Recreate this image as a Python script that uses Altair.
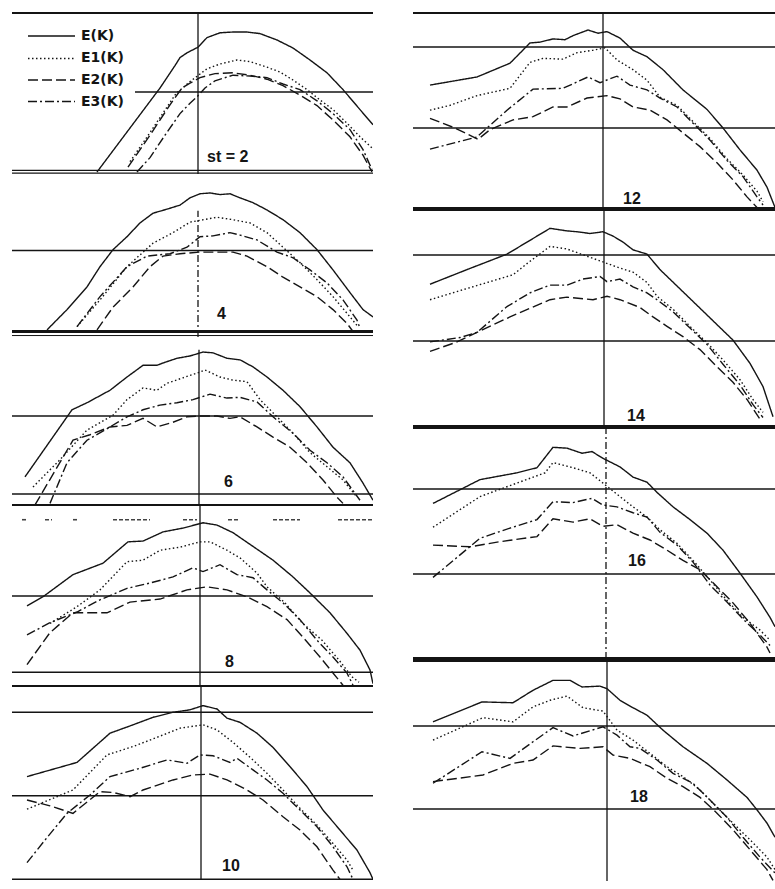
import altair as alt
import pandas as pd

# Band energies E(K) and the three approximations, one panel per step count "st".
# K runs along the horizontal axis (arbitrary units), energies are in units of the
# spacing between the horizontal reference levels.
SERIES = ["E(K)", "E1(K)", "E2(K)", "E3(K)"]
DASHES = [[1, 0], [1.5, 2.5], [10, 4], [9, 3, 2, 3]]
INK = "#141414"

# ---- st = 2 ----
ST2_E = [(8.5, 0.0), (11.8, 0.55), (14.8, 1.05), (16.3, 1.33), (16.8, 1.43), (17.5, 1.49), (18.6, 1.56), (19.5, 1.68), (20.8, 1.74), (22.1, 1.75), (23.5, 1.75), (24.8, 1.73), (26.5, 1.65), (28.1, 1.55), (29.8, 1.40), (31.5, 1.24), (33.1, 1.03), (34.8, 0.78), (36.1, 0.59)]
ST2_E1 = [(11.8, 0.13), (13.3, 0.40), (14.8, 0.68), (16.4, 0.98), (17.8, 1.13), (19.5, 1.29), (20.8, 1.35), (22.5, 1.40), (23.8, 1.38), (25.5, 1.31), (26.8, 1.25), (28.1, 1.15), (29.5, 1.03), (30.8, 0.90), (32.1, 0.78), (33.5, 0.61), (34.8, 0.44), (36.0, 0.30)]
ST2_E2 = [(11.6, 0.06), (13.8, 0.46), (15.8, 0.84), (17.0, 1.05), (17.8, 1.11), (18.8, 1.18), (20.3, 1.23), (22.1, 1.24), (23.8, 1.21), (25.5, 1.16), (27.1, 1.08), (28.8, 0.96), (30.5, 0.83), (32.1, 0.65), (33.8, 0.44), (35.1, 0.21), (36.0, 0.0)]
ST2_E3 = [(12.5, 0.0), (13.8, 0.18), (15.3, 0.46), (16.8, 0.73), (17.8, 0.86), (18.5, 0.94), (19.3, 1.05), (20.3, 1.14), (22.1, 1.21), (23.8, 1.20), (25.5, 1.18), (27.1, 1.10), (28.8, 1.03), (30.5, 0.89), (32.1, 0.73), (33.8, 0.53), (35.1, 0.28), (36.0, 0.03)]

# ---- st = 4 ----
ST4_E = [(3.5, 0.02), (5.5, 0.27), (7.5, 0.55), (8.8, 0.80), (10.1, 1.01), (11.5, 1.17), (12.8, 1.34), (14.1, 1.46), (15.5, 1.51), (16.8, 1.56), (17.8, 1.65), (18.8, 1.70), (19.8, 1.71), (20.8, 1.69), (21.8, 1.70), (22.8, 1.65), (24.1, 1.59), (25.5, 1.50), (27.1, 1.38), (28.8, 1.22), (30.5, 1.01), (32.1, 0.76), (33.8, 0.48), (35.1, 0.27), (36.1, 0.18)]
ST4_E1 = [(6.5, 0.06), (8.8, 0.39), (11.5, 0.80), (14.1, 1.09), (16.1, 1.22), (17.8, 1.35), (20.5, 1.41), (22.1, 1.38), (23.8, 1.34), (25.5, 1.22), (27.1, 1.04), (28.8, 0.85), (30.5, 0.64), (32.1, 0.43), (33.8, 0.18), (34.6, 0.06)]
ST4_E2 = [(8.5, 0.02), (10.1, 0.30), (12.1, 0.55), (13.8, 0.80), (15.1, 0.93), (16.8, 0.96), (18.8, 0.98), (20.5, 0.98), (22.1, 0.98), (23.5, 0.93), (25.5, 0.80), (27.1, 0.67), (28.8, 0.55), (30.5, 0.43), (32.1, 0.27), (33.5, 0.10), (34.1, 0.0)]
ST4_E3 = [(6.5, 0.06), (8.8, 0.43), (11.5, 0.80), (13.5, 0.93), (15.8, 0.96), (17.5, 1.04), (18.8, 1.17), (20.1, 1.18), (21.8, 1.22), (22.8, 1.19), (24.5, 1.13), (26.5, 0.98), (28.1, 0.91), (29.8, 0.76), (31.5, 0.60), (33.1, 0.39), (34.5, 0.14), (34.8, 0.04)]

# ---- st = 6 ----
ST6_E = [(1.3, 0.22), (6.0, 1.08), (7.5, 1.17), (9.8, 1.33), (11.5, 1.50), (13.1, 1.65), (14.5, 1.65), (15.1, 1.68), (16.5, 1.74), (17.8, 1.77), (19.1, 1.82), (20.1, 1.81), (21.5, 1.74), (22.8, 1.72), (24.1, 1.63), (25.5, 1.50), (27.1, 1.33), (28.8, 1.12), (30.5, 0.86), (32.1, 0.60), (33.8, 0.40), (35.1, 0.14), (36.1, -0.08)]
ST6_E1 = [(2.1, 0.09), (4.8, 0.44), (7.5, 0.82), (10.1, 1.01), (11.5, 1.21), (13.1, 1.36), (14.5, 1.33), (15.5, 1.42), (17.1, 1.49), (18.5, 1.55), (19.3, 1.59), (20.8, 1.50), (22.1, 1.46), (23.5, 1.44), (24.8, 1.21), (26.5, 0.99), (28.1, 0.78), (29.8, 0.53), (31.5, 0.35), (33.1, 0.18), (34.5, -0.04)]
ST6_E2 = [(2.3, -0.14), (6.1, 0.69), (7.8, 0.76), (9.8, 0.86), (11.5, 0.88), (13.1, 0.97), (14.5, 0.86), (16.1, 0.92), (17.5, 0.99), (18.8, 1.00), (20.5, 1.00), (21.8, 0.97), (22.8, 0.99), (24.5, 0.86), (26.1, 0.73), (27.8, 0.60), (29.5, 0.40), (31.1, 0.18), (32.5, -0.04), (33.1, -0.12)]
ST6_E3 = [(3.8, -0.12), (5.5, 0.40), (7.5, 0.69), (9.8, 0.86), (11.5, 0.99), (13.1, 1.08), (14.8, 1.14), (16.5, 1.17), (18.1, 1.21), (19.8, 1.28), (21.5, 1.23), (22.8, 1.24), (24.5, 1.18), (26.1, 0.99), (28.1, 0.78), (29.8, 0.56), (31.5, 0.40), (33.1, 0.22), (34.8, -0.08)]

# ---- st = 8 ----
ST8_E = [(1.5, 0.87), (3.1, 0.99), (6.1, 1.28), (9.1, 1.43), (11.6, 1.71), (13.1, 1.72), (15.1, 1.84), (17.1, 1.89), (19.1, 1.96), (20.5, 1.93), (22.1, 1.83), (24.1, 1.65), (26.1, 1.47), (28.1, 1.25), (29.8, 1.04), (31.8, 0.78), (33.5, 0.51), (34.8, 0.29), (35.8, 0.03), (36.1, -0.15)]
ST8_E1 = [(3.8, 0.64), (6.5, 0.86), (8.8, 1.08), (11.5, 1.45), (13.1, 1.47), (14.8, 1.60), (16.8, 1.64), (18.8, 1.71), (19.8, 1.71), (21.5, 1.60), (22.8, 1.50), (24.5, 1.30), (25.5, 1.12), (27.3, 0.91), (29.0, 0.65), (31.0, 0.42), (32.7, 0.16), (34.0, -0.06), (34.7, -0.13)]
ST8_E2 = [(1.5, 0.10), (3.8, 0.52), (6.1, 0.78), (9.5, 0.78), (11.8, 0.92), (14.8, 0.96), (17.5, 1.08), (19.5, 1.12), (21.5, 1.08), (23.5, 0.99), (25.5, 0.86), (27.5, 0.69), (29.1, 0.46), (30.8, 0.20), (32.1, -0.01), (33.1, -0.17)]
ST8_E3 = [(1.5, 0.49), (3.8, 0.65), (6.5, 0.79), (8.8, 0.95), (11.5, 1.10), (13.8, 1.17), (16.1, 1.25), (18.1, 1.37), (19.1, 1.32), (20.8, 1.41), (22.5, 1.28), (24.1, 1.24), (25.5, 1.08), (27.1, 0.91), (28.8, 0.69), (30.5, 0.42), (32.1, 0.20), (33.5, -0.01), (34.1, -0.17)]

# ---- st = 10 ----
ST10_E = [(1.5, 1.23), (6.5, 1.40), (9.8, 1.75), (12.1, 1.85), (14.1, 1.94), (16.1, 2.00), (17.8, 2.03), (19.1, 2.08), (20.5, 2.04), (21.5, 1.93), (22.8, 1.88), (24.5, 1.75), (26.1, 1.58), (27.8, 1.35), (29.5, 1.11), (31.1, 0.83), (32.8, 0.59), (34.5, 0.35), (35.8, 0.08), (36.1, 0.0)]
ST10_E1 = [(1.5, 0.84), (6.1, 1.07), (9.5, 1.49), (12.1, 1.59), (14.5, 1.70), (16.8, 1.81), (19.1, 1.85), (20.5, 1.79), (22.1, 1.64), (24.1, 1.43), (25.5, 1.27), (27.1, 1.07), (28.8, 0.85), (30.5, 0.65), (32.1, 0.43), (33.5, 0.23), (34.1, 0.11)]
ST10_E2 = [(1.5, 0.95), (3.8, 0.88), (6.1, 0.79), (8.8, 1.05), (10.1, 1.04), (11.8, 0.99), (13.1, 1.07), (16.1, 1.19), (18.1, 1.25), (19.8, 1.26), (21.5, 1.19), (23.5, 1.07), (25.1, 0.95), (27.1, 0.75), (28.8, 0.59), (30.5, 0.39), (32.1, 0.11), (32.8, 0.0)]
ST10_E3 = [(1.5, 0.20), (3.5, 0.50), (5.5, 0.79), (7.8, 1.01), (9.8, 1.23), (12.8, 1.33), (15.5, 1.43), (17.5, 1.39), (18.8, 1.49), (20.1, 1.48), (21.8, 1.40), (22.5, 1.45), (24.1, 1.31), (25.5, 1.19), (27.1, 1.03), (28.8, 0.83), (30.5, 0.63), (32.1, 0.39), (33.5, 0.15), (34.1, 0.0)]

# ---- st = 12 ----
ST12_E = [(1.7, 1.53), (6.4, 1.63), (9.7, 1.80), (11.7, 2.05), (12.7, 2.06), (14.0, 2.10), (15.2, 2.09), (16.0, 2.14), (17.5, 2.21), (18.5, 2.17), (19.4, 2.19), (20.7, 2.11), (22.0, 1.96), (23.4, 1.88), (25.0, 1.72), (27.0, 1.47), (29.4, 1.23), (31.0, 1.00), (32.7, 0.73), (34.4, 0.48), (35.4, 0.27), (36.2, 0.02)]
ST12_E1 = [(1.7, 1.22), (3.7, 1.28), (6.4, 1.40), (9.7, 1.49), (11.7, 1.81), (13.0, 1.86), (15.0, 1.85), (16.4, 1.93), (18.0, 1.96), (19.2, 1.99), (20.4, 1.84), (22.0, 1.72), (23.4, 1.59), (24.7, 1.38), (26.4, 1.28), (28.0, 1.08), (29.7, 0.87), (31.4, 0.62), (33.0, 0.42), (34.4, 0.22), (35.0, 0.09)]
ST12_E2 = [(1.7, 1.12), (4.2, 1.00), (6.5, 0.86), (7.7, 0.98), (10.0, 1.10), (12.0, 1.14), (14.0, 1.26), (15.4, 1.26), (17.4, 1.37), (19.4, 1.40), (20.7, 1.36), (22.0, 1.26), (23.7, 1.22), (25.4, 1.10), (27.0, 0.94), (28.7, 0.77), (30.4, 0.57), (32.0, 0.36), (33.4, 0.15), (34.4, 0.02)]
ST12_E3 = [(1.7, 0.74), (6.4, 0.89), (9.4, 1.22), (12.0, 1.48), (15.0, 1.49), (17.5, 1.63), (18.7, 1.56), (20.4, 1.64), (21.7, 1.53), (23.4, 1.47), (24.7, 1.37), (26.4, 1.26), (28.0, 1.06), (29.7, 0.85), (31.4, 0.60), (33.0, 0.40), (34.4, 0.15), (35.0, 0.05)]

# ---- st = 14 ----
ST14_E = [(1.7, 1.66), (5.4, 1.83), (9.4, 2.01), (13.7, 2.31), (15.4, 2.28), (16.4, 2.27), (17.7, 2.25), (19.0, 2.27), (20.0, 2.22), (21.0, 2.15), (22.0, 2.06), (23.4, 2.01), (24.7, 1.83), (28.0, 1.46), (32.0, 1.01), (33.7, 0.74), (35.0, 0.47), (36.0, 0.12)]
ST14_E1 = [(1.7, 1.48), (5.4, 1.61), (10.0, 1.77), (11.4, 1.90), (13.7, 2.10), (15.4, 2.07), (20.4, 1.86), (22.0, 1.80), (23.4, 1.68), (24.4, 1.52), (26.0, 1.37), (27.7, 1.17), (29.4, 0.98), (31.0, 0.78), (32.7, 0.55), (34.0, 0.32), (35.0, 0.17)]
ST14_E2 = [(1.7, 0.88), (4.2, 0.98), (6.4, 1.10), (9.7, 1.28), (13.7, 1.48), (15.4, 1.51), (18.0, 1.48), (19.4, 1.52), (20.7, 1.48), (22.7, 1.39), (24.0, 1.28), (25.4, 1.17), (27.0, 1.05), (28.7, 0.90), (30.4, 0.70), (32.0, 0.52), (33.4, 0.32), (34.7, 0.09)]
ST14_E3 = [(1.7, 0.99), (4.7, 1.04), (6.4, 1.10), (9.4, 1.40), (11.7, 1.56), (13.7, 1.65), (15.4, 1.65), (17.0, 1.72), (18.7, 1.75), (19.4, 1.69), (20.7, 1.72), (22.0, 1.63), (23.4, 1.56), (24.4, 1.48), (26.0, 1.34), (27.7, 1.15), (29.4, 0.96), (31.0, 0.73), (32.7, 0.49), (34.0, 0.26), (35.0, 0.11)]

# ---- st = 16 ----
ST16_E = [(2.0, 1.83), (6.7, 2.11), (10.4, 2.19), (12.4, 2.25), (14.0, 2.49), (15.4, 2.48), (16.9, 2.42), (17.9, 2.44), (19.0, 2.36), (20.7, 2.26), (22.0, 2.14), (23.4, 2.08), (24.4, 1.96), (26.0, 1.79), (27.7, 1.64), (29.4, 1.48), (31.0, 1.28), (32.7, 1.01), (34.4, 0.73), (35.7, 0.49), (36.2, 0.38)]
ST16_E1 = [(2.0, 1.55), (6.7, 1.91), (13.2, 2.19), (14.0, 2.31), (15.0, 2.28), (16.0, 2.25), (17.7, 2.19), (20.7, 1.91), (22.0, 1.79), (23.4, 1.67), (24.7, 1.52), (26.4, 1.36), (28.0, 1.16), (29.7, 0.93), (31.4, 0.69), (33.0, 0.49), (34.7, 0.34), (35.7, 0.22)]
ST16_E2 = [(2.0, 1.34), (5.7, 1.32), (8.7, 1.38), (12.4, 1.44), (14.0, 1.65), (16.0, 1.61), (17.7, 1.65), (19.0, 1.56), (20.4, 1.58), (22.0, 1.48), (23.7, 1.40), (25.4, 1.28), (27.0, 1.16), (28.7, 1.05), (30.4, 0.85), (32.0, 0.66), (33.7, 0.42), (35.4, 0.14), (35.7, 0.07)]
ST16_E3 = [(2.0, 0.96), (6.7, 1.42), (9.7, 1.54), (12.4, 1.64), (14.0, 1.85), (16.0, 1.84), (17.9, 1.89), (19.0, 1.81), (20.4, 1.79), (22.0, 1.72), (23.4, 1.67), (24.7, 1.49), (26.4, 1.34), (28.0, 1.14), (29.7, 0.87), (31.4, 0.67), (33.0, 0.47), (34.7, 0.28), (35.7, 0.16)]

# ---- st = 18 ----
ST18_E = [(2.0, 2.05), (6.9, 2.29), (10.0, 2.28), (12.0, 2.43), (14.0, 2.55), (15.7, 2.55), (16.9, 2.47), (18.7, 2.48), (19.4, 2.45), (20.7, 2.31), (22.0, 2.22), (23.4, 2.13), (25.0, 1.95), (27.0, 1.75), (29.4, 1.55), (31.4, 1.35), (33.4, 1.14), (34.4, 0.99), (35.4, 0.83), (36.2, 0.66)]
ST18_E1 = [(2.0, 1.83), (7.0, 2.10), (10.0, 2.05), (12.0, 2.23), (13.7, 2.31), (15.4, 2.36), (17.0, 2.22), (19.0, 2.18), (20.4, 1.95), (22.0, 1.83), (23.7, 1.67), (25.4, 1.51), (27.0, 1.39), (28.7, 1.23), (30.4, 1.02), (32.0, 0.83), (33.7, 0.63), (35.4, 0.42), (36.2, 0.27)]
ST18_E2 = [(2.0, 1.33), (7.0, 1.41), (10.0, 1.55), (12.0, 1.59), (14.0, 1.76), (16.7, 1.73), (19.0, 1.75), (20.0, 1.65), (21.7, 1.61), (23.7, 1.51), (25.4, 1.37), (27.0, 1.27), (28.7, 1.14), (30.4, 0.95), (32.0, 0.75), (33.7, 0.51), (35.4, 0.27), (36.0, 0.14)]
ST18_E3 = [(2.0, 1.31), (6.9, 1.69), (9.7, 1.61), (12.0, 1.81), (14.0, 1.98), (16.0, 1.88), (17.9, 1.95), (19.0, 1.99), (20.4, 1.89), (21.7, 1.75), (22.7, 1.73), (24.4, 1.59), (26.0, 1.43), (28.0, 1.31), (29.7, 1.11), (31.4, 0.90), (33.0, 0.66), (34.7, 0.42), (36.2, 0.23)]

# Broken reference level drawn in the st = 8 panel (pieces along K)
ST8_TOP_PIECES = [(1.0, 1.6), (3.3, 4.0), (6.1, 6.5), (10.1, 13.8), (17.1, 18.5), (21.6, 22.8), (26.1, 28.8), (32.6, 36.1)]

# Legend rows (energy position of each row inside the st = 2 panel)
LEGEND_ROWS = [1.70, 1.42, 1.15, 0.88]

LEFT_K = 36.1
RIGHT_K = 36.2
PANEL_W_LEFT = 361
PANEL_W_RIGHT = 362


def curve_frame(curves):
    rows = []
    for name, pts in zip(SERIES, curves):
        for i, (k, e) in enumerate(pts):
            rows.append({"series": name, "k": k, "e": e, "i": i})
    return pd.DataFrame(rows)


def panel(curves, label, label_at, height, ylim, kmax, width, levels, vline,
          vdash=None, dashed_pieces=None, legend=False):
    xs = alt.Scale(domain=[0, kmax], nice=False, zero=False)
    ys = alt.Scale(domain=list(ylim), nice=False, zero=False)

    def X(f):
        return alt.X(f, type="quantitative", scale=xs, axis=None)

    def Y(f):
        return alt.Y(f, type="quantitative", scale=ys, axis=None)

    dash_scale = alt.Scale(domain=SERIES, range=DASHES)
    layers = []

    # horizontal reference levels and frame lines
    lv = pd.DataFrame([{"e": e, "k1": a, "k2": b, "w": w} for (e, a, b, w) in levels])
    layers.append(
        alt.Chart(lv).mark_rule(color=INK, clip=True).encode(
            x=X("k1"), x2=alt.X2("k2"), y=Y("e"),
            strokeWidth=alt.StrokeWidth("w:Q", scale=None),
        )
    )
    if dashed_pieces:
        dp = pd.DataFrame([{"k1": a, "k2": b, "e": dashed_pieces[1]} for (a, b) in dashed_pieces[0]])
        layers.append(
            alt.Chart(dp).mark_rule(color=INK, strokeWidth=1.6, strokeDash=[4, 2], opacity=0.8,
                                    clip=True).encode(
                x=X("k1"), x2=alt.X2("k2"), y=Y("e")
            )
        )

    # vertical marker at the zone centre
    vk, ve1, ve2 = vline
    vdf = pd.DataFrame([{"k": vk, "e1": ve1, "e2": ve2}])
    vkw = {"color": INK, "strokeWidth": 1.3, "clip": True}
    if vdash:
        vkw["strokeDash"] = vdash
    layers.append(alt.Chart(vdf).mark_rule(**vkw).encode(x=X("k"), y=Y("e1"), y2=alt.Y2("e2")))

    # the four energy curves
    layers.append(
        alt.Chart(curve_frame(curves)).mark_line(color=INK, strokeWidth=1.4, clip=True).encode(
            x=X("k"), y=Y("e"),
            strokeDash=alt.StrokeDash("series:N", scale=dash_scale, legend=None),
            order="i:Q",
        )
    )

    # panel label
    ldf = pd.DataFrame([{"k": label_at[0], "e": label_at[1], "t": label}])
    layers.append(
        alt.Chart(ldf).mark_text(align="left", baseline="middle", font="Liberation Sans",
                                 fontSize=16, fontWeight="bold", color=INK, clip=True).encode(
            x=X("k"), y=Y("e"), text="t:N"
        )
    )

    if legend:
        seg = []
        for name, e in zip(SERIES, LEGEND_ROWS):
            seg.append({"series": name, "k": 1.6, "e": e, "i": 0})
            seg.append({"series": name, "k": 6.3, "e": e, "i": 1})
        layers.append(
            alt.Chart(pd.DataFrame(seg)).mark_line(color=INK, strokeWidth=1.5, clip=True).encode(
                x=X("k"), y=Y("e"),
                strokeDash=alt.StrokeDash("series:N", scale=dash_scale, legend=None),
                order="i:Q",
            )
        )
        tdf = pd.DataFrame([{"k": 6.9, "e": e, "t": n} for n, e in zip(SERIES, LEGEND_ROWS)])
        layers.append(
            alt.Chart(tdf).mark_text(align="left", baseline="middle", font="DejaVu Sans",
                                     fontSize=14, fontWeight="bold", color=INK, clip=True).encode(
                x=X("k"), y=Y("e"), text="t:N"
            )
        )

    return alt.layer(*layers).properties(width=width, height=height)


L, R = LEFT_K, RIGHT_K
DASHDOT = [7, 3, 2, 3]

left = [
    panel((ST2_E, ST2_E1, ST2_E2, ST2_E3), "st = 2", (19.5, 0.19), 162, (-0.025, 2.0), L, PANEL_W_LEFT,
          [(2.0, 0, L, 4.0), (1.0, 12.3, L, 1.5), (0.02, 0, L, 1.3), (-0.015, 0, L, 1.3)],
          (18.6, -0.025, 2.0), legend=True),
    panel((ST4_E, ST4_E1, ST4_E2, ST4_E3), "4", (20.5, 0.22), 163, (-0.068, 1.944), L, PANEL_W_LEFT,
          [(1.0, 0, L, 1.5), (0.0, 0, L, 3.2), (-0.05, 0, L, 1.0)],
          (18.6, -0.068, 1.49), vdash=DASHDOT),
    panel((ST6_E, ST6_E1, ST6_E2, ST6_E3), "6", (21.2, 0.15), 168, (-0.141, 2.013), L, PANEL_W_LEFT,
          [(1.0, 0, L, 1.5), (0.0, 0, L, 1.5), (-0.141, 0, L, 2.0)],
          (18.7, -0.141, 1.85)),
    panel((ST8_E, ST8_E1, ST8_E2, ST8_E3), "8", (21.3, 0.135), 181, (-0.18, 2.193), L, PANEL_W_LEFT,
          [(2.193, 0, L, 2.0), (1.0, 0, L, 1.5), (0.0, 0, L, 1.5), (-0.18, 0, L, 2.0)],
          (18.8, -0.18, 2.193), dashed_pieces=(ST8_TOP_PIECES, 2.0)),
    panel((ST10_E, ST10_E1, ST10_E2, ST10_E3), "10", (21.0, 0.16), 194, (-0.008, 2.315), L, PANEL_W_LEFT,
          [(2.315, 0, L, 2.0), (2.0, 0, L, 1.5), (1.0, 0, L, 1.5), (0.0, 0, L, 1.5)],
          (18.9, -0.008, 2.315)),
]

right = [
    panel((ST12_E, ST12_E1, ST12_E2, ST12_E3), "12", (21.0, 0.12), 198, (-0.012, 2.432), R, PANEL_W_RIGHT,
          [(2.432, 0, R, 4.0), (2.0, 0, R, 1.5), (1.0, 0, R, 1.5), (0.0, 0, R, 4.0)],
          (19.0, -0.012, 2.432)),
    panel((ST14_E, ST14_E1, ST14_E2, ST14_E3), "14", (21.4, 0.13), 217, (0.0, 2.523), R, PANEL_W_RIGHT,
          [(2.523, 0, R, 2.0), (2.0, 0, R, 1.5), (1.0, 0, R, 1.5), (0.0, 0, R, 4.0)],
          (19.1, 0.0, 2.523)),
    panel((ST16_E, ST16_E1, ST16_E2, ST16_E3), "16", (21.5, 1.15), 232, (0.0, 2.729), R, PANEL_W_RIGHT,
          [(2.729, 0, R, 4.0), (2.0, 0, R, 1.5), (1.0, 0, R, 1.5), (0.0, 0, R, 4.0)],
          (19.3, 0.0, 2.729), vdash=DASHDOT),
    panel((ST18_E, ST18_E1, ST18_E2, ST18_E3), "18", (21.7, 1.14), 222, (0.133, 2.807), R, PANEL_W_RIGHT,
          [(2.807, 0, R, 6.0), (2.0, 0, R, 1.5), (1.0, 0, R, 1.5)],
          (19.4, 0.133, 2.807)),
]

chart = (
    alt.hconcat(
        alt.vconcat(*left, spacing=0, bounds="flush"),
        alt.vconcat(*right, spacing=0, bounds="flush"),
        spacing=40,
    )
    .properties(padding={"left": 12, "top": 12, "right": 0, "bottom": 0}, background="white")
    .configure_view(stroke=None)
)

chart.save("out.html", embed_options={"renderer": "svg", "actions": False})
